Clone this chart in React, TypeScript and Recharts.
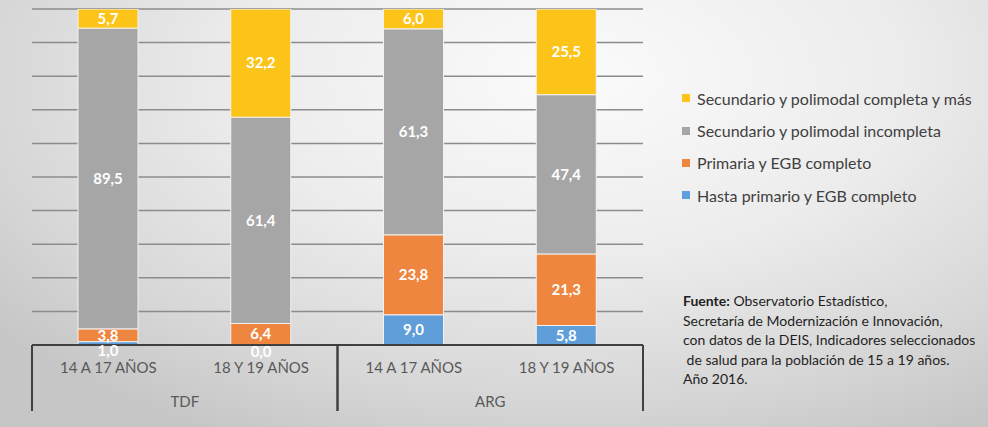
import { BarChart, Bar, XAxis, YAxis, CartesianGrid, LabelList } from 'recharts';

const ageGroups = ['14 A 17 AÑOS', '18 Y 19 AÑOS', '14 A 17 AÑOS', '18 Y 19 AÑOS'];
const regions = ['TDF', 'TDF', 'ARG', 'ARG'];

// porcentajes por nivel educativo
const hastaPrimario = [1.0, 0.0, 9.0, 5.8];
const primariaCompleto = [3.8, 6.4, 23.8, 21.3];
const secundarioIncompleto = [89.5, 61.4, 61.3, 47.4];
const secundarioCompleto = [5.7, 32.2, 6.0, 25.5];

const yTicks = [0, 10, 20, 30, 40, 50, 60, 70, 80, 90, 100];

const series = [
  { key: 'hasta', name: 'Hasta primario y EGB completo', color: '#5F9ED8', values: hastaPrimario },
  { key: 'primaria', name: 'Primaria y EGB completo', color: '#EE8640', values: primariaCompleto },
  { key: 'incompleta', name: 'Secundario y polimodal incompleta', color: '#A6A6A6', values: secundarioIncompleto },
  { key: 'completa', name: 'Secundario y polimodal completa y más', color: '#FCC419', values: secundarioCompleto },
];

const data = ageGroups.map((age, i) => {
  const row: Record<string, number | string> = { idx: i, age, region: regions[i] };
  series.forEach((s) => {
    row[s.key] = s.values[i];
  });
  return row;
});

const WIDTH = 988;
const HEIGHT = 427;
const MARGIN = { top: 9, right: 345, bottom: 0, left: 32 };
const X_AXIS_HEIGHT = 82;
const AXIS_Y = HEIGHT - X_AXIS_HEIGHT;
const BAND = (WIDTH - MARGIN.left - MARGIN.right) / ageGroups.length;
const FONT = "Lato, 'Open Sans', sans-serif";

const fmt = (v: number) => v.toFixed(1).replace('.', ',');

const ValueLabel = (props: any) => {
  const { x, y, width, height, value } = props;
  const cx = x + width / 2;
  let cy = y + height / 2;
  if (Math.abs(height) < 8) cy += 7;
  return (
    <text x={cx} y={cy} dy="0.35em" textAnchor="middle" fill="#fff" fontWeight="bold" fontSize={15} fontFamily={FONT}>
      {fmt(Number(value))}
    </text>
  );
};

const GroupTick = (props: any) => {
  const { x, payload } = props;
  const i = payload.index;
  const first = i === 0 || regions[i] !== regions[i - 1];
  const last = i === regions.length - 1 || regions[i + 1] !== regions[i];
  let start = i;
  while (start > 0 && regions[start - 1] === regions[i]) start--;
  const groupCenter = x - ((i - start) * BAND) / 2;
  // zero-height segments get no bar label from Recharts, so draw them here
  const zeros = series.filter((s) => s.values[i] === 0);
  return (
    <g>
      {zeros.map((s) => (
        <text key={s.key} x={x} y={AXIS_Y + 7} dy="0.35em" textAnchor="middle" fill="#fff" fontWeight="bold" fontSize={15} fontFamily={FONT}>
          {fmt(s.values[i])}
        </text>
      ))}
      <text x={x} y={AXIS_Y + 23} dy="0.35em" textAnchor="middle" fill="#595959" fontSize={15} fontFamily={FONT}>
        {ageGroups[i]}
      </text>
      {first && (
        <line x1={x - BAND / 2} x2={x - BAND / 2} y1={AXIS_Y} y2={AXIS_Y + 66} stroke="#404040" strokeWidth={2} />
      )}
      {last && (
        <line x1={x + BAND / 2} x2={x + BAND / 2} y1={AXIS_Y} y2={AXIS_Y + 66} stroke="#404040" strokeWidth={2} />
      )}
      {last && (
        <text x={groupCenter} y={AXIS_Y + 57} dy="0.35em" textAnchor="middle" fill="#595959" fontSize={15} fontFamily={FONT}>
          {regions[i]}
        </text>
      )}
    </g>
  );
};

const sourceLines = [
  'Observatorio Estadístico,',
  'Secretaría de Modernización e Innovación,',
  'con datos de la DEIS, Indicadores seleccionados',
  ' de salud para la población de 15 a 19 años.',
  'Año 2016.',
];

export default function App() {
  return (
    <div
      style={{
        position: 'absolute',
        left: 0,
        top: 0,
        width: WIDTH,
        height: HEIGHT,
        overflow: 'hidden',
        background:
          'radial-gradient(ellipse 75% 95% at 58% 18%, #fbfbfb 0%, #ececec 45%, #d6d6d6 80%, #c6c6c6 100%)',
      }}
    >
      <BarChart width={WIDTH} height={HEIGHT} data={data} margin={MARGIN} barSize={60}>
        <CartesianGrid horizontal vertical={false} stroke="#8c8c8c" strokeWidth={1.5} />
        <YAxis hide domain={[0, 100]} ticks={yTicks} allowDataOverflow />
        <XAxis
          dataKey="idx"
          height={X_AXIS_HEIGHT}
          axisLine={{ stroke: '#404040', strokeWidth: 2 }}
          tickLine={false}
          tick={<GroupTick />}
          interval={0}
        />
        {series.map((s) => (
          <Bar
            key={s.key}
            dataKey={s.key}
            name={s.name}
            stackId="a"
            fill={s.color}
            stroke="#f2f2f2"
            strokeWidth={1}
            isAnimationActive={false}
          >
            <LabelList dataKey={s.key} content={<ValueLabel />} />
          </Bar>
        ))}
      </BarChart>
      <div
        style={{
          position: 'absolute',
          left: 682,
          top: 82,
          fontFamily: FONT,
          fontSize: 16,
          color: '#404040',
        }}
      >
        {[...series].reverse().map((s) => (
          <div key={s.key} style={{ display: 'flex', alignItems: 'center', height: 32.4 }}>
            <span style={{ display: 'inline-block', width: 8, height: 8, background: s.color, marginRight: 7 }} />
            <span>{s.name}</span>
          </div>
        ))}
      </div>
      <div
        style={{
          position: 'absolute',
          left: 683,
          top: 291,
          fontFamily: FONT,
          fontSize: 14,
          lineHeight: '19.5px',
          color: '#1f1f1f',
          whiteSpace: 'pre',
        }}
      >
        <b>Fuente:</b> {sourceLines[0]}
        {sourceLines.slice(1).map((l) => (
          <div key={l}>{l}</div>
        ))}
      </div>
    </div>
  );
}
